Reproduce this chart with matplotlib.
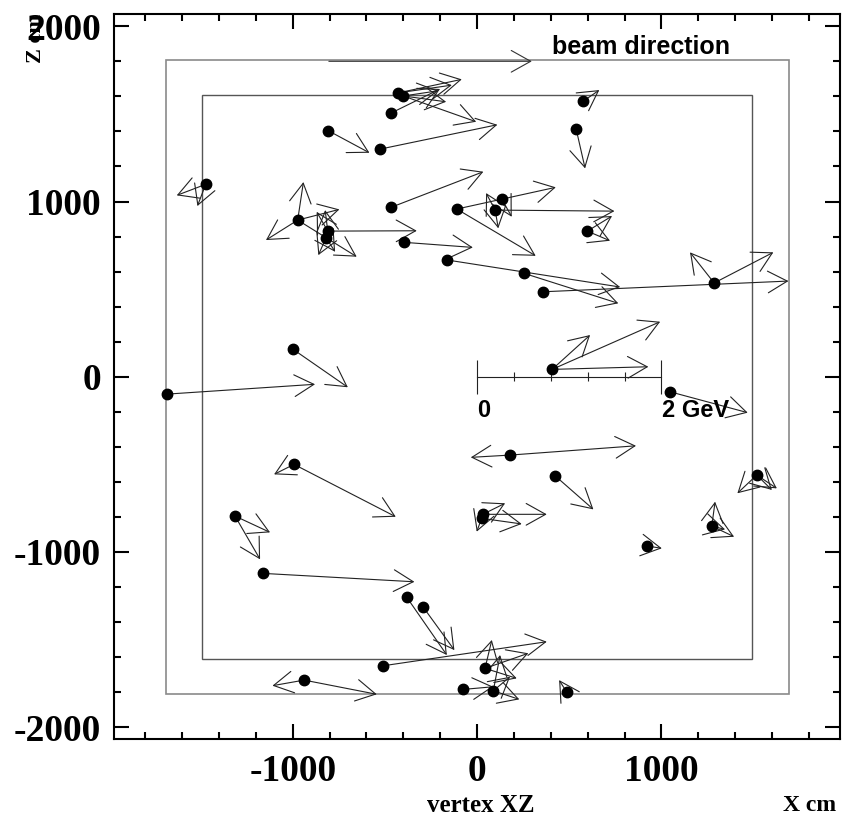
import matplotlib
matplotlib.use('Agg')
import matplotlib.pyplot as plt
from matplotlib.patches import Rectangle
from matplotlib.ticker import MultipleLocator

plt.rcParams['axes.unicode_minus'] = False

# vertex positions (cm)
vtx_x = [-427, -400, -466, -807, -526, 537, 577, -1472, -973, -810, -819, -466,
         -396, -110, 134, 98, 598, -161, 255, 360, 1286, -1000, -1680, 407, 1047,
         179, 423, -993, 31, 25, 1517, 1273, 924, -1313, -1162, -938, -381, -294,
         -508, 43, -74, 88, 487]
vtx_z = [1620, 1602, 1505, 1404, 1299, 1415, 1573, 1098, 894, 831, 793, 967,
         767, 957, 1014, 951, 831, 666, 590, 485, 535, 158, -99, 42, -86,
         -447, -565, -500, -785, -808, -561, -852, -966, -795, -1122, -1731, -1259, -1312,
         -1649, -1664, -1784, -1792, -1801]

# track end points (cm), with index of the parent vertex
trk_vtx = [0, 0, 1, 1, 1, 2, 3, 4, 5, 6, 7, 7, 8, 8, 8, 8, 9, 9, 9, 10, 10, 11, 12,
           13, 13, 14, 15, 15, 15, 16, 16, 17, 18, 19, 20, 20, 21, 22, 23, 23, 23, 24,
           25, 25, 26, 27, 27, 28, 28, 29, 29, 30, 30, 30, 31, 31, 31, 32, 33, 33, 34,
           35, 35, 36, 37, 38, 39, 39, 39, 40, 41, 41, 41, 42]
trk_x = [-83, -137, -168, -5, -210, -201, -584, 110, 586, 663, -1629, -1517, -942, -1145,
         -747, -653, -327, -824, -870, -861, -770, 34, -23, 318, 427, 188, 745, 115, 49,
         732, 721, 776, 766, 1689, 1607, 1155, -701, -879, 993, 613, 929, 1468, -34, 862,
         631, -441, -1101, 378, 152, 242, -2, 1412, 1626, 1599, 1291, 1394, 1345, 1002,
         -1123, -1177, -340, -1110, -544, -164, -123, 378, 80, 278, 215, 88, 125, 229, 179,
         445]
trk_z = [1697, 1664, 1569, 1455, 1632, 1642, 1278, 1438, 1189, 1636, 1035, 974, 1111, 780,
         955, 685, 833, 951, 941, 694, 713, 1170, 738, 690, 1081, 913, 945, 847, 1048,
         917, 776, 512, 419, 546, 710, 710, -60, -43, 314, 238, 57, -205, -460, -394,
         -757, -799, -557, -785, -722, -840, -884, -665, -637, -646, -713, -913, -871, -979,
         -888, -1042, -1170, -1763, -1812, -1588, -1560, -1512, -1502, -1578, -1721, -1769,
         -1588, -1841, -1712, -1731]

x_ticks = [-1000, 0, 1000]
z_ticks = [-2000, -1000, 0, 1000, 2000]
outer_half = (1690, 1810)
inner_half = (1490, 1610)
beam_x = [-804, 297]
beam_z = 1800
scale_ticks = [0, 200, 400, 600, 800, 1000]

fig = plt.figure(figsize=(8.44, 8.18), dpi=100)
ax = fig.add_axes([0.1345, 0.0966, 0.8602, 0.8863])
ax.set_xlim(-1972, 1966)
ax.set_ylim(-2067, 2070)

ax.add_patch(Rectangle((-outer_half[0], -outer_half[1]), 2 * outer_half[0], 2 * outer_half[1],
                       fill=False, ec='#8a8a8a', lw=1.2, zorder=1))
ax.add_patch(Rectangle((-inner_half[0], -inner_half[1]), 2 * inner_half[0], 2 * inner_half[1],
                       fill=False, ec='#555555', lw=1.0, zorder=1))

astyle = '->,head_length=1.4,head_width=0.78'
for v, x, z in zip(trk_vtx, trk_x, trk_z):
    ax.annotate('', xy=(x, z), xytext=(vtx_x[v], vtx_z[v]),
                arrowprops=dict(arrowstyle=astyle, shrinkA=0, shrinkB=0, lw=0.8,
                                color='#222222'), annotation_clip=False, zorder=3)
ax.plot(vtx_x, vtx_z, 'o', color='black', ms=7.5, zorder=5)

# beam direction arrow
ax.annotate('', xy=(beam_x[1], beam_z), xytext=(beam_x[0], beam_z),
            arrowprops=dict(arrowstyle=astyle, shrinkA=0, shrinkB=0, lw=0.8, color='#333333'))
ax.text(405, 1840, 'beam direction', ha='left', va='baseline', fontsize=18,
        fontfamily='Liberation Sans', fontweight='bold')

# momentum scale bar
ax.plot([scale_ticks[0], scale_ticks[-1]], [0, 0], color='#222222', lw=0.8)
ax.vlines([scale_ticks[0], scale_ticks[-1]], -97, 97, color='#222222', lw=0.8)
ax.vlines(scale_ticks[1:-1], -25, 25, color='#222222', lw=0.8)
ax.text(0, -125, '0', ha='left', va='top', fontsize=17,
        fontfamily='Liberation Sans', fontweight='bold')
ax.text(1002, -125, '2 GeV', ha='left', va='top', fontsize=17,
        fontfamily='Liberation Sans', fontweight='bold')

ax.set_xticks(x_ticks)
ax.set_yticks(z_ticks)
ax.xaxis.set_minor_locator(MultipleLocator(200))
ax.yaxis.set_minor_locator(MultipleLocator(200))
ax.tick_params(which='both', direction='in', top=True, right=True)
ax.tick_params(which='major', length=10.5, width=1.5, labelsize=27)
ax.tick_params(which='minor', length=5, width=1.5)
ax.tick_params(axis='x', pad=11)
ax.tick_params(axis='y', pad=9)
for lbl in ax.get_xticklabels() + ax.get_yticklabels():
    lbl.set_fontfamily('Liberation Serif')
    lbl.set_fontweight('bold')
for s in ax.spines.values():
    s.set_linewidth(1.5)

fig.text(480.5 / 844, 1 - 812 / 818, 'vertex XZ', ha='center', va='baseline', fontsize=18,
         fontfamily='Liberation Serif', fontweight='bold')
fig.text(836 / 844, 1 - 811 / 818, 'X cm', ha='right', va='baseline', fontsize=17,
         fontfamily='Liberation Serif', fontweight='bold')
fig.text(36 / 844, 1 - 14 / 818, 'Z cm', ha='center', va='top', rotation=90, fontsize=16,
         fontfamily='Liberation Serif', fontweight='bold')

fig.savefig('out.png', dpi=100)
